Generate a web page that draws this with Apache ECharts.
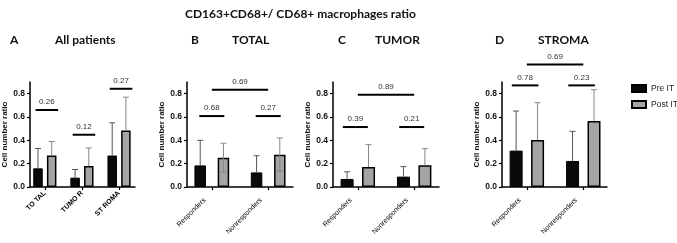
<!DOCTYPE html>
<html>
<head>
<meta charset="utf-8">
<script src="https://cdn.jsdelivr.net/npm/echarts@6/dist/echarts.min.js"></script>
<style>
  html, body { margin: 0; padding: 0; background: #fff; }
  #main { width: 677px; height: 243px; }
</style>
</head>
<body>
<div id="main"></div>
<script>
// values (mean and upper error bar end)
const yTicks = [0, 0.2, 0.4, 0.6, 0.8]
const allCats = ['TO TAL', 'TUMO R', 'ST ROMA']
const groupCats = ['Responders', 'Nonresponders']
const seriesNames = ['Pre IT', 'Post IT']

const allPre = [0.16, 0.08, 0.27]
const allPreErr = [0.33, 0.15, 0.55]
const allPost = [0.27, 0.18, 0.485]
const allPostErr = [0.39, 0.335, 0.77]

const totalPre = [0.185, 0.125]
const totalPreErr = [0.40, 0.268]
const totalPost = [0.25, 0.277]
const totalPostErr = [0.375, 0.42]
const totalPostErrLow = [0.125, 0.135]

const tumorPre = [0.069, 0.089]
const tumorPreErr = [0.13, 0.175]
const tumorPost = [0.171, 0.186]
const tumorPostErr = [0.363, 0.329]

const stromaPre = [0.312, 0.223]
const stromaPreErr = [0.651, 0.477]
const stromaPost = [0.403, 0.566]
const stromaPostErr = [0.723, 0.834]

// p-value brackets: [from category, to category, height, label]
const allBrackets = [[0, 0, 0.66, '0.26'], [1, 1, 0.448, '0.12'], [2, 2, 0.842, '0.27']]
const totalBrackets = [[0, 0, 0.608, '0.68'], [1, 1, 0.608, '0.27'], [0, 1, 0.834, '0.69']]
const tumorBrackets = [[0, 0, 0.514, '0.39'], [1, 1, 0.514, '0.21'], [0, 1, 0.79, '0.89']]
const stromaBrackets = [[0, 0, 0.871, '0.78'], [1, 1, 0.871, '0.23'], [0, 1, 1.049, '0.69']]

const chart = echarts.init(document.getElementById('main'))

const FONT = '"Liberation Sans", Arial, sans-serif'
const preColor = '#0a0a0a'
const postColor = '#a4a4a4'

// layout of each panel (pixels)
const panels = [
  { cats: allCats, pre: allPre, preErr: allPreErr, post: allPost, postErr: allPostErr, brackets: allBrackets,
    left: 30, width: 105, min: -0.4, max: 2.43, barW: 9.5, dist: 13.7, bHalf: 11.3, bShift: 2,
    labelFont: 7, labelBold: true, labelMargin: 5, labelPad: 0 },
  { cats: groupCats, pre: totalPre, preErr: totalPreErr, post: totalPost, postErr: totalPostErr, postErrLow: totalPostErrLow, brackets: totalBrackets,
    left: 187, width: 106, min: -0.44, max: 1.44, barW: 11.5, dist: 23.2, bHalf: 12.5, bShift: 0,
    labelFont: 7, labelBold: false, labelMargin: 5, labelPad: 10 },
  { cats: groupCats, pre: tumorPre, preErr: tumorPreErr, post: tumorPost, postErr: tumorPostErr, brackets: tumorBrackets,
    left: 333, width: 106, min: -0.44, max: 1.44, barW: 13, dist: 21.4, bHalf: 12.5, bShift: -2.5,
    labelFont: 7, labelBold: false, labelMargin: 5, labelPad: 10 },
  { cats: groupCats, pre: stromaPre, preErr: stromaPreErr, post: stromaPost, postErr: stromaPostErr, brackets: stromaBrackets,
    left: 502, width: 105, min: -0.44, max: 1.42, barW: 13, dist: 21.5, bHalf: 13.3, bShift: -1.7,
    labelFont: 7, labelBold: false, labelMargin: 5, labelPad: 10 }
]

function errorRender (offset, color) {
  return function (params, api) {
    const x = api.value(0)
    const hi = api.coord([x, api.value(2)])
    const lo = api.coord([x, api.value(1)])
    const bar = api.coord([x, api.value(3)])
    const px = hi[0] + offset
    const children = [
      { type: 'line', shape: { x1: px, y1: lo[1], x2: px, y2: hi[1] }, style: { stroke: color, lineWidth: 1 } },
      { type: 'line', shape: { x1: px - 3, y1: hi[1], x2: px + 3, y2: hi[1] }, style: { stroke: color, lineWidth: 1 } }
    ]
    // lower whisker, only where the figure shows one
    if (lo[1] > bar[1] + 0.5) {
      children.push({ type: 'line', shape: { x1: px - 3, y1: lo[1], x2: px + 3, y2: lo[1] }, style: { stroke: color, lineWidth: 1 } })
    }
    return { type: 'group', children: children }
  }
}

function bracketRender (p) {
  return function (params, api) {
    const a = api.coord([api.value(0), api.value(2)])
    const b = api.coord([api.value(1), api.value(2)])
    let x1, x2
    if (api.value(0) === api.value(1)) {
      x1 = a[0] + p.bShift - p.bHalf
      x2 = a[0] + p.bShift + p.bHalf
    } else {
      x1 = a[0]
      x2 = b[0]
    }
    const label = p.brackets[params.dataIndex][3]
    return {
      type: 'group',
      children: [
        { type: 'line', shape: { x1: x1, y1: a[1], x2: x2, y2: a[1] }, style: { stroke: '#000', lineWidth: 2 } },
        { type: 'text', x: (x1 + x2) / 2, y: a[1] - 4,
          style: { text: label, fill: '#333', font: '8px ' + FONT, textAlign: 'center', textVerticalAlign: 'bottom' } }
      ]
    }
  }
}

const grid = []
const xAxis = []
const yAxis = []
const series = []

panels.forEach(function (p, i) {
  grid.push({ left: p.left, width: p.width, top: 82, height: 105, outerBoundsMode: 'none' })
  const catIdx = p.cats.map(function (c, k) { return k })
  xAxis.push({
    type: 'value', gridIndex: i, min: p.min, max: p.max,
    splitLine: { show: false },
    axisLine: { lineStyle: { color: '#000', width: 1.5 } },
    axisTick: { customValues: catIdx, length: 3, lineStyle: { color: '#000', width: 1.2 } },
    axisLabel: {
      customValues: catIdx, rotate: 45, margin: p.labelMargin, padding: [0, p.labelPad, 0, 0],
      fontSize: p.labelFont, fontWeight: p.labelBold ? 'bold' : 'normal', color: '#000', fontFamily: FONT,
      formatter: function (v) { return p.cats[Math.round(v)] }
    }
  })
  yAxis.push({
    type: 'value', gridIndex: i, min: 0, max: 0.9,
    name: 'Cell number ratio', nameLocation: 'middle', nameGap: 21,
    nameTextStyle: { fontSize: 8, fontWeight: 'bold', color: '#111', fontFamily: FONT },
    splitLine: { show: false },
    axisLine: { show: true, onZero: false, lineStyle: { color: '#000', width: 1.5 } },
    axisTick: { show: true, customValues: yTicks, length: 3, lineStyle: { color: '#000', width: 1.2 } },
    axisLabel: {
      customValues: yTicks, margin: 5, fontSize: 8.5, fontWeight: 'bold', color: '#111', fontFamily: FONT,
      formatter: function (v) { return v.toFixed(1) }
    }
  })
  const gapPct = ((p.dist - p.barW) / p.barW * 100).toFixed(0) + '%'
  series.push({
    name: seriesNames[0], type: 'bar', xAxisIndex: i, yAxisIndex: i,
    barWidth: p.barW, barGap: gapPct,
    itemStyle: { color: preColor, borderColor: '#000', borderWidth: 1 },
    data: p.pre.map(function (v, k) { return [k, v] })
  })
  series.push({
    name: seriesNames[1], type: 'bar', xAxisIndex: i, yAxisIndex: i,
    barWidth: p.barW, barGap: gapPct,
    itemStyle: { color: postColor, borderColor: '#000', borderWidth: 1.5 },
    data: p.post.map(function (v, k) { return [k, v] })
  })
  series.push({
    type: 'custom', xAxisIndex: i, yAxisIndex: i, z: 5, silent: true,
    renderItem: errorRender(-p.dist / 2, '#555'),
    data: p.pre.map(function (v, k) { return [k, v, p.preErr[k], v] })
  })
  series.push({
    type: 'custom', xAxisIndex: i, yAxisIndex: i, z: 5, silent: true,
    renderItem: errorRender(p.dist / 2, '#888'),
    data: p.post.map(function (v, k) { return [k, p.postErrLow ? p.postErrLow[k] : v, p.postErr[k], v] })
  })
  series.push({
    type: 'custom', xAxisIndex: i, yAxisIndex: i, z: 6, silent: true, clip: false,
    renderItem: bracketRender(p),
    data: p.brackets.map(function (b) { return [b[0], b[1], b[2]] })
  })
})

const titleFont = 'Lato, "Open Sans", sans-serif'
const panelTitles = [['A', 10, 'All patients', 55], ['B', 191, 'TOTAL', 232], ['C', 338, 'TUMOR', 375], ['D', 495, 'STROMA', 538]]
const titles = [{
  text: 'CD163+CD68+/ CD68+ macrophages ratio', left: 185, top: 8,
  textStyle: { fontSize: 12, fontWeight: 'bold', color: '#111', fontFamily: titleFont }
}]
panelTitles.forEach(function (t) {
  titles.push({ text: t[0], left: t[1], top: 34, textStyle: { fontSize: 12, fontWeight: 'bold', color: '#111', fontFamily: titleFont } })
  titles.push({ text: t[2], left: t[3], top: 34, textStyle: { fontSize: 12, fontWeight: 'bold', color: '#111', fontFamily: titleFont } })
})

chart.setOption({
  animation: false,
  backgroundColor: '#fff',
  title: titles.map(function (t) { return Object.assign({ padding: 0 }, t) }),
  legend: {
    data: seriesNames, orient: 'vertical', left: 631, top: 84,
    itemWidth: 14, itemHeight: 7, itemGap: 7, padding: 0, icon: 'rect',
    textStyle: { fontSize: 8.5, color: '#222', fontFamily: FONT }
  },
  grid: grid,
  xAxis: xAxis,
  yAxis: yAxis,
  series: series
})
</script>
</body>
</html>
